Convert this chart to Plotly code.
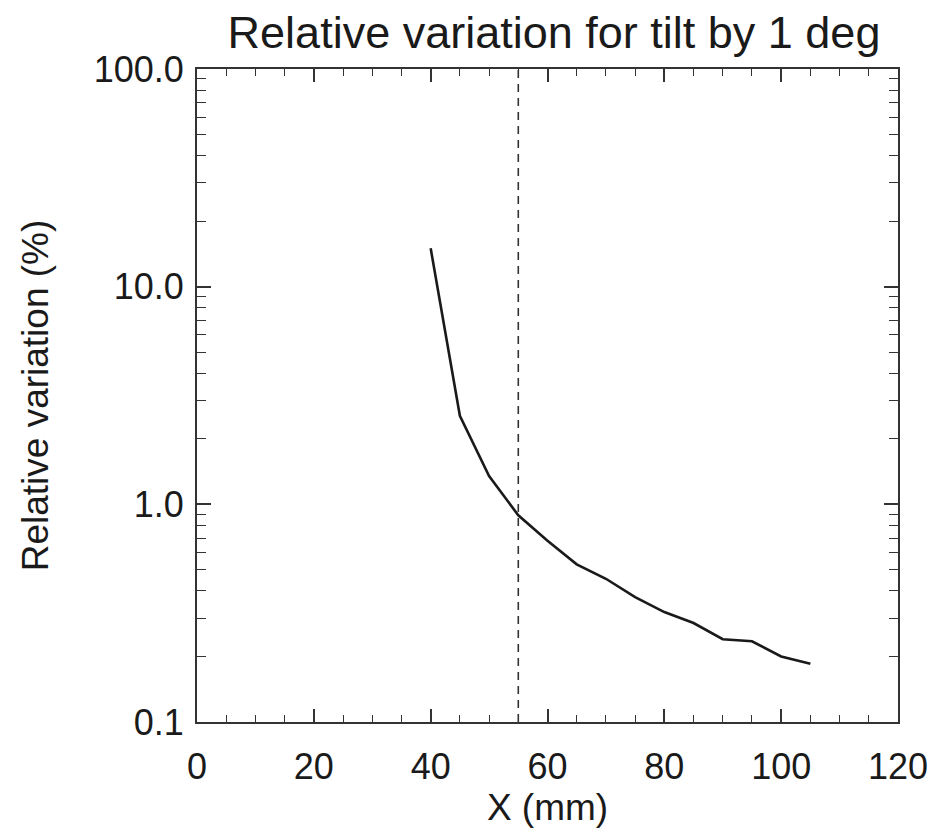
import plotly.graph_objects as go

x_mm = [40, 45, 50, 55, 60, 65, 70, 75, 80, 85, 90, 95, 100, 105]
rel_var = [15.0, 2.55, 1.35, 0.89, 0.68, 0.53, 0.455, 0.375, 0.32, 0.285, 0.24, 0.235, 0.20, 0.185]
x_ref = 55
y_tickvals = [0.1, 1, 10, 100]
y_ticktext = ["0.1", "1.0", "10.0", "100.0"]
y_minor = [m * 10 ** e for e in (-1, 0, 1) for m in range(2, 10)]

FONT = "Liberation Sans, Arial, Helvetica, sans-serif"
INK = "#1a1a1a"

fig = go.Figure()
fig.add_trace(go.Scatter(x=x_mm, y=rel_var, mode="lines",
                         line=dict(color=INK, width=2.6), showlegend=False))
fig.add_trace(go.Scatter(x=[x_ref, x_ref], y=[0.1, 100], mode="lines",
                         line=dict(color="#333333", width=1.6, dash="8px,6px"),
                         showlegend=False))

fig.update_layout(
    width=939, height=840,
    margin=dict(l=197, r=41, t=69, b=118),
    paper_bgcolor="white", plot_bgcolor="white",
    font=dict(family=FONT, color=INK),
    title=dict(text="Relative variation for tilt by 1 deg", x=0.59, xanchor="center",
               y=0.962, yanchor="middle", font=dict(size=45, family=FONT, color=INK)),
    xaxis=dict(range=[0, 120], tickvals=[0, 20, 40, 60, 80, 100, 120],
               ticks="inside", ticklen=13, tickwidth=1.6, tickcolor="#333",
               minor=dict(tickvals=[v for v in range(5, 120, 5) if v % 20], ticks="inside",
                          ticklen=7, tickwidth=1.4, tickcolor="#333"),
               showline=True, linecolor="#333", linewidth=2, mirror="allticks",
               showgrid=False, zeroline=False,
               tickfont=dict(size=36, family=FONT, color=INK), ticklabelstandoff=12,
               title=dict(text="X (mm)", font=dict(size=37, family=FONT, color=INK), standoff=8)),
    yaxis=dict(type="log", range=[-1, 2], tickvals=y_tickvals, ticktext=y_ticktext,
               ticks="inside", ticklen=14, tickwidth=1.6, tickcolor="#333",
               minor=dict(tickvals=y_minor, ticks="inside", ticklen=9,
                          tickwidth=1.4, tickcolor="#333"),
               showline=True, linecolor="#333", linewidth=2, mirror="allticks",
               showgrid=False, zeroline=False,
               tickfont=dict(size=36, family=FONT, color=INK), ticklabelstandoff=4,
               title=dict(text="Relative variation (%)", font=dict(size=37, family=FONT, color=INK),
                          standoff=34)),
)

fig.write_html("out.html")
